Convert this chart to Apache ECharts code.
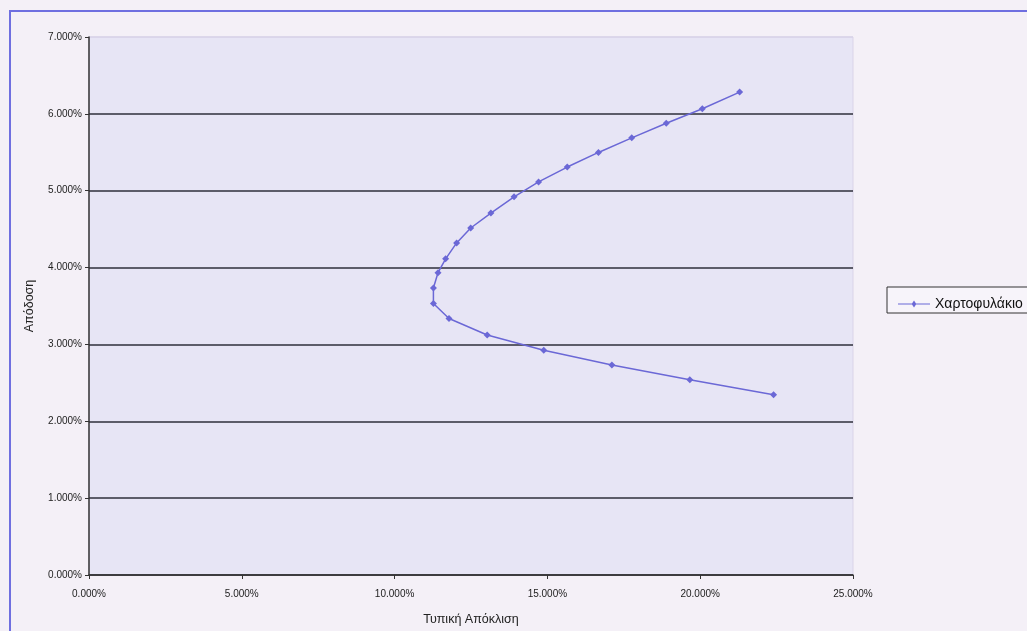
<!DOCTYPE html>
<html>
<head>
<meta charset="utf-8">
<script src="https://cdn.jsdelivr.net/npm/echarts@6/dist/echarts.min.js"></script>
<style>
html,body{margin:0;padding:0;background:#f4f0f7;}
#chart{width:1027px;height:631px;}
</style>
</head>
<body>
<div id="chart"></div>
<script>
// Standard deviation (%) and return (%) of portfolios on the frontier
const stdDev = [22.40, 19.66, 17.11, 14.88, 13.03, 11.78, 11.27, 11.27, 11.42, 11.67, 12.03, 12.49, 13.15, 13.91, 14.71, 15.65, 16.67, 17.76, 18.89, 20.07, 21.29];
const returns = [2.345, 2.54, 2.733, 2.924, 3.122, 3.338, 3.532, 3.735, 3.933, 4.114, 4.321, 4.515, 4.709, 4.92, 5.114, 5.308, 5.498, 5.688, 5.877, 6.067, 6.283];
const seriesName = 'Χαρτοφυλάκιο';
const xTitle = 'Τυπική Απόκλιση';
const yTitle = 'Απόδοση';

const chart = echarts.init(document.getElementById('chart'), null, {renderer:'canvas'});
const lineColor = '#6b68d6';
const gridDark = '#2e2e3a';
const labelFont = {fontFamily:'Liberation Sans Narrow, Arial Narrow, Liberation Sans, sans-serif', fontSize:10, color:'#222'};

chart.setOption({
  backgroundColor:'#f4f0f7',
  animation:false,
  graphic:[
    {type:'rect', shape:{x:10, y:11, width:1030, height:640}, style:{fill:'none', stroke:'#6f6fe0', lineWidth:2}, z:-1},
    {type:'rect', shape:{x:887, y:287, width:145, height:26}, style:{fill:'#f7f4fa', stroke:'#333', lineWidth:1}, z:1}
  ],
  grid:{left:89, top:37, width:764, height:541, show:true, backgroundColor:'#e7e5f5', borderColor:'#d9d3e8', borderWidth:1},
  legend:{
    data:[seriesName], left:893, top:292, itemWidth:32, itemHeight:8, itemGap:6,
    textStyle:{fontFamily:'Liberation Sans, Arial, sans-serif', fontSize:14, color:'#111'},
    icon:'path://M0,4 L14,4 L16,1 L18,4 L32,4 L32,5 L18,5 L16,8 L14,5 L0,5 Z',
    z:5
  },
  xAxis:{
    type:'value', min:0, max:25, interval:5,
    name:xTitle, nameLocation:'middle', nameGap:38,
    nameTextStyle:{fontFamily:'Liberation Sans, Arial, sans-serif', fontSize:12.5, color:'#222'},
    axisLine:{show:true, lineStyle:{color:'#333', width:1.5}},
    axisTick:{show:true, length:4, inside:false, lineStyle:{color:'#333'}},
    splitLine:{show:false},
    axisLabel:Object.assign({formatter:v=>v.toFixed(3)+'%', margin:14}, labelFont)
  },
  yAxis:{
    type:'value', min:0, max:7, interval:1,
    name:yTitle, nameLocation:'middle', nameGap:53, nameRotate:90,
    nameTextStyle:{fontFamily:'Liberation Sans, Arial, sans-serif', fontSize:12.5, color:'#222'},
    axisLine:{show:true, lineStyle:{color:'#333', width:1.5}},
    axisTick:{show:true, length:4, inside:false, lineStyle:{color:'#333'}},
    splitLine:{show:true, lineStyle:{color:[gridDark,gridDark,gridDark,gridDark,gridDark,gridDark,gridDark,'#d9d3e8'], width:1.5}},
    axisLabel:Object.assign({formatter:v=>v.toFixed(3)+'%', margin:7}, labelFont)
  },
  series:[{
    name:seriesName, type:'line',
    data:stdDev.map((x,i)=>[x, returns[i]]),
    symbol:'diamond', symbolSize:7, showSymbol:true,
    lineStyle:{color:lineColor, width:1.5},
    itemStyle:{color:lineColor},
    z:3
  }]
});
</script>
</body>
</html>
